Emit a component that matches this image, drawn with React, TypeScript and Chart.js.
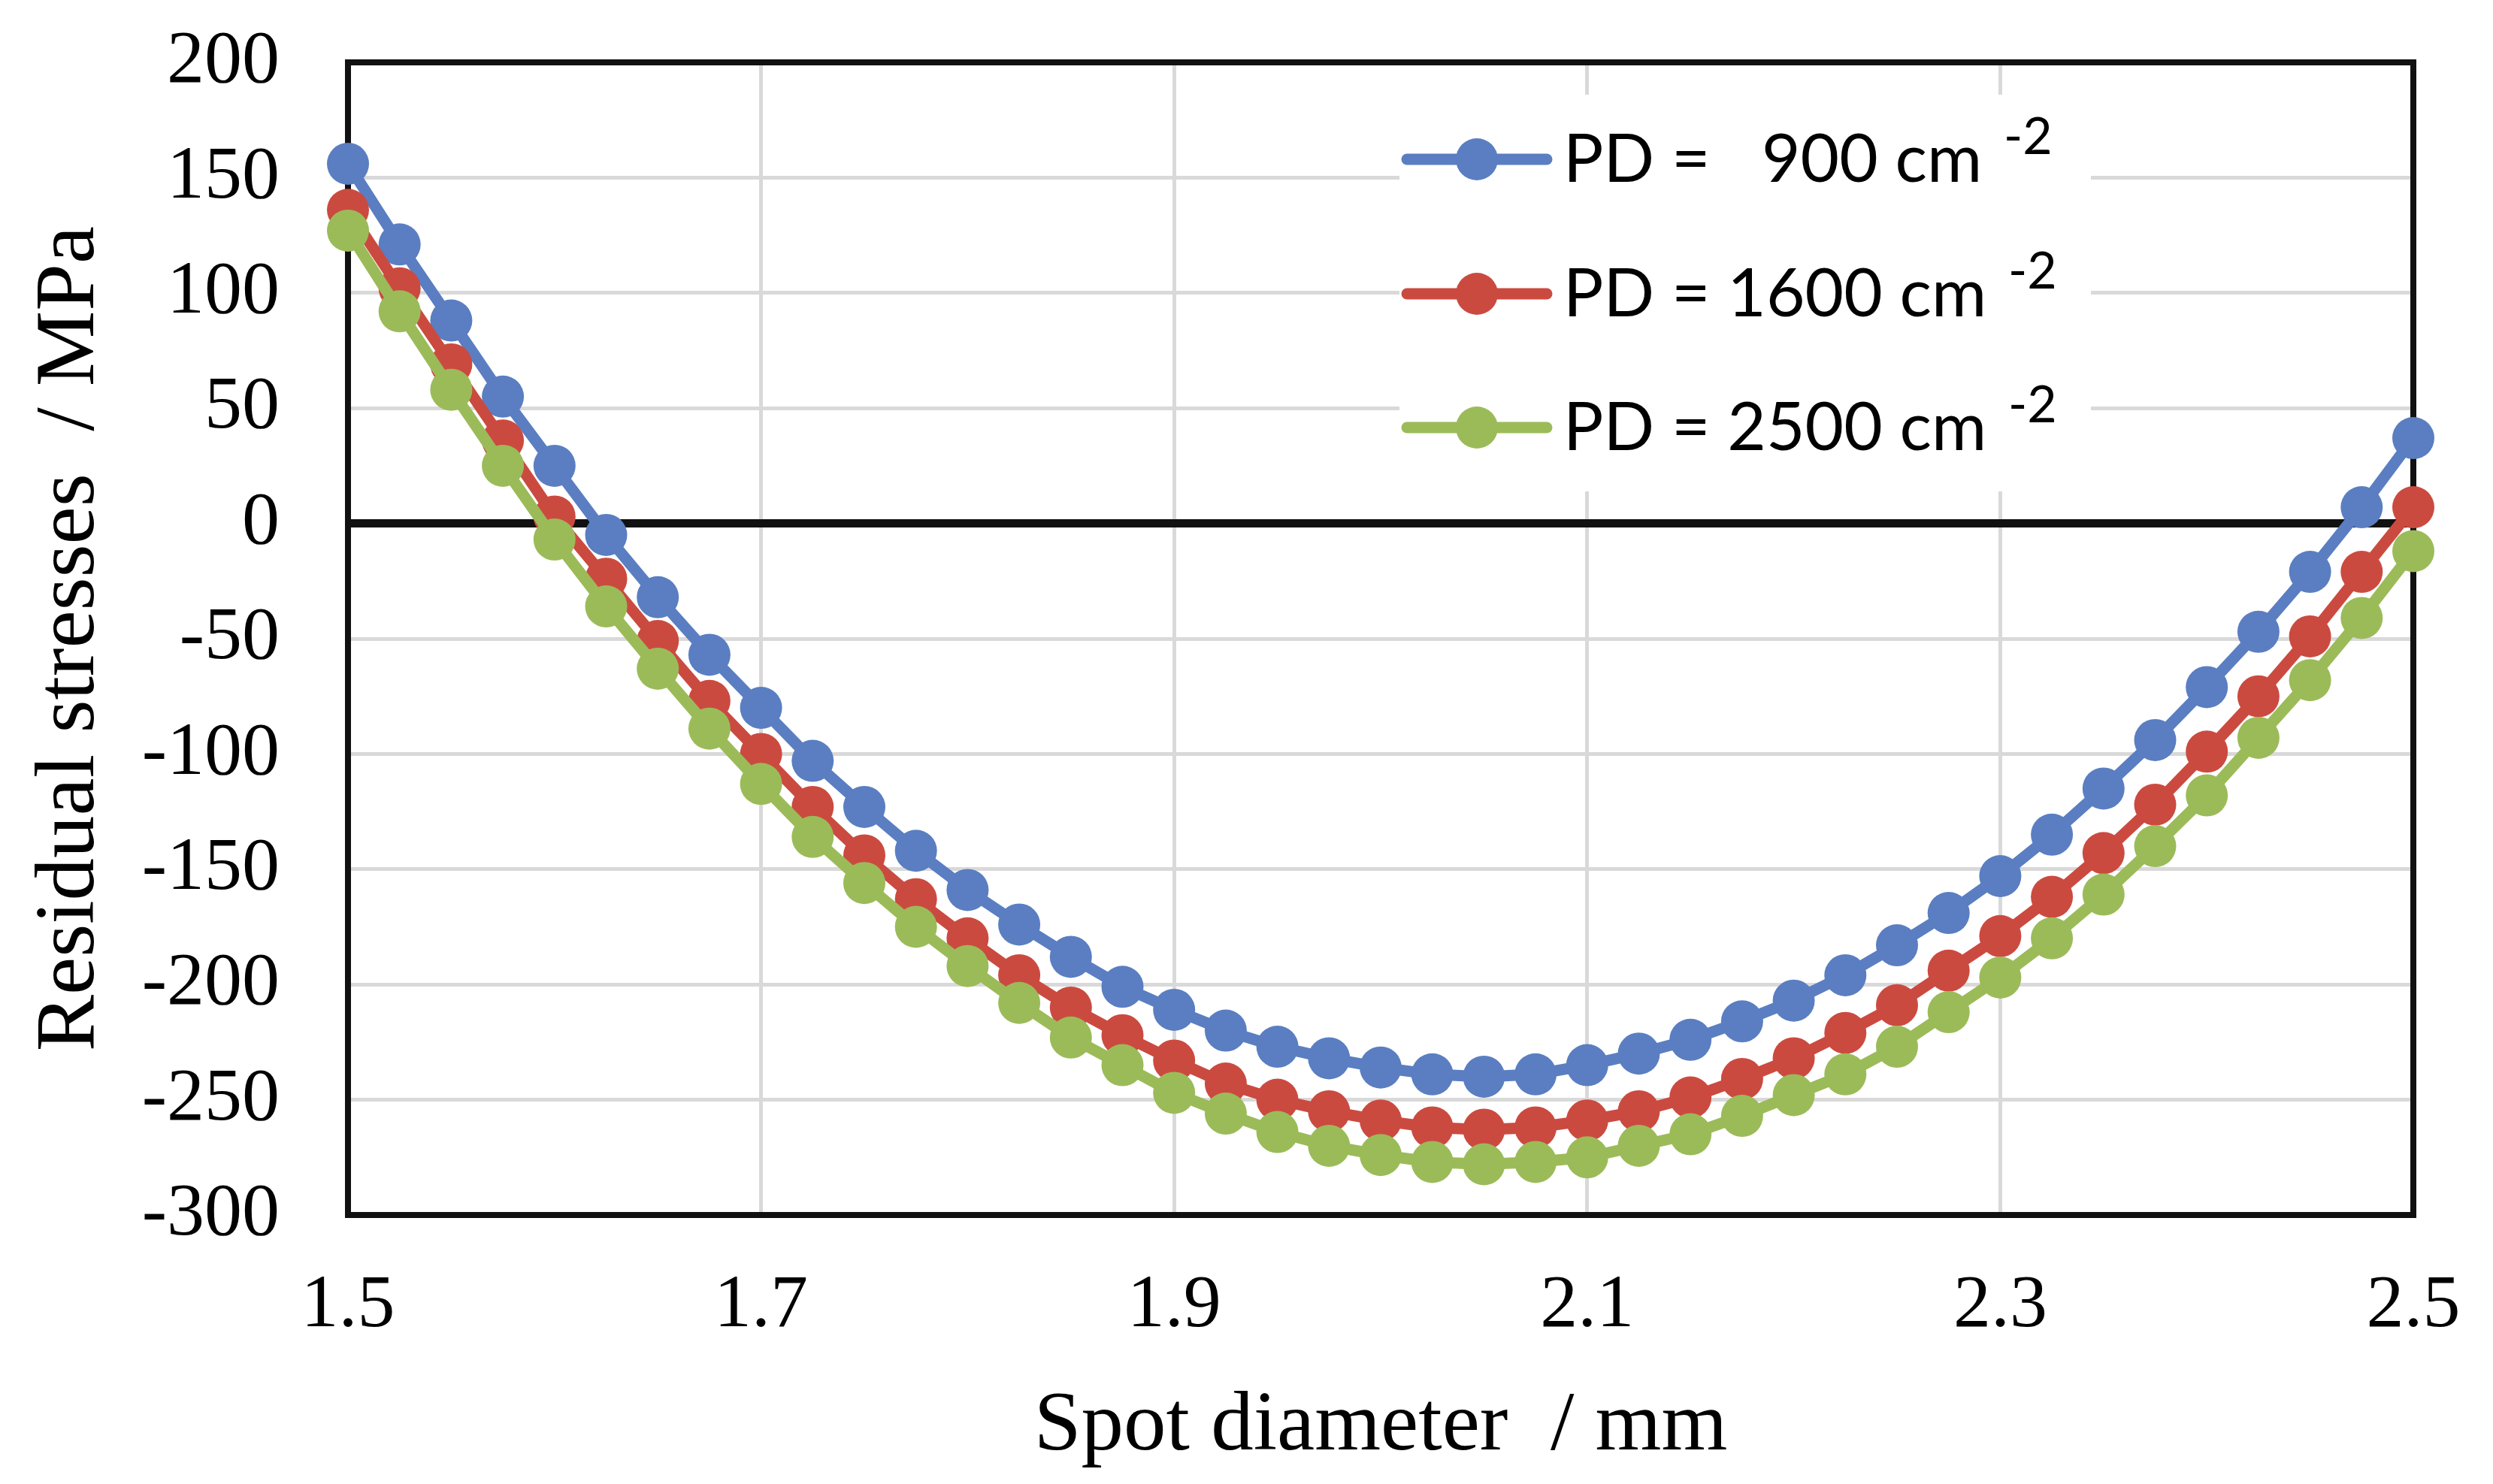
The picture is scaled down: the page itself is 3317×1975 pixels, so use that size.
import { useEffect, useRef } from 'react';
import { Chart, registerables } from 'chart.js';

Chart.register(...registerables);

// spot diameter / mm
const spotDiameter = [
  1.5, 1.525, 1.55, 1.575, 1.6, 1.625, 1.65, 1.675, 1.7, 1.725,
  1.75, 1.775, 1.8, 1.825, 1.85, 1.875, 1.9, 1.925, 1.95, 1.975,
  2.0, 2.025, 2.05, 2.075, 2.1, 2.125, 2.15, 2.175, 2.2, 2.225,
  2.25, 2.275, 2.3, 2.325, 2.35, 2.375, 2.4, 2.425, 2.45, 2.475, 2.5,
];

// residual stresses / MPa
const pd900 = [
  156, 121, 88, 55, 25, -5, -32, -57, -80, -103,
  -123, -142, -159, -174, -188, -201, -211, -220, -227, -232,
  -236, -239, -240, -239, -235, -230, -224, -216, -207, -196,
  -183, -169, -153, -135, -115, -94, -71, -47, -21, 7, 37,
];
const pd1600 = [
  136, 102, 69, 36, 3, -24, -51, -77, -100, -123,
  -144, -163, -180, -196, -210, -222, -233, -243, -250, -255,
  -259, -262, -263, -262, -259, -255, -249, -241, -232, -221,
  -209, -194, -179, -162, -143, -122, -99, -75, -49, -21, 7,
];
const pd2500 = [
  127, 92, 58, 25, -7, -36, -63, -89, -113, -136,
  -156, -175, -192, -208, -223, -235, -247, -256, -264, -270,
  -274, -277, -278, -277, -275, -270, -265, -257, -248, -239,
  -227, -212, -197, -180, -161, -140, -118, -93, -68, -41, -12,
];

const xTicks = [1.5, 1.7, 1.9, 2.1, 2.3, 2.5];

const seriesLabels = ['PD =   900 cm', 'PD = 1600 cm', 'PD = 2500 cm'];
const superscript = '-2';
const seriesColors = ['#5a7ec1', '#cb4a40', '#9bbb59'];

const legendPlugin = {
  id: 'pdLegend',
  beforeDatasetsDraw(chart: Chart) {
    const { ctx } = chart;
    ctx.save();
    // white legend box hides the grid behind it
    ctx.fillStyle = '#ffffff';
    ctx.fillRect(1862, 126, 920, 528);

    const rows = [212, 391, 569];
    seriesLabels.forEach((label, i) => {
      const y = rows[i];
      ctx.strokeStyle = seriesColors[i];
      ctx.lineWidth = 15;
      ctx.lineCap = 'round';
      ctx.beginPath();
      ctx.moveTo(1872, y);
      ctx.lineTo(2058, y);
      ctx.stroke();
      ctx.fillStyle = seriesColors[i];
      ctx.beginPath();
      ctx.arc(1965, y, 28, 0, Math.PI * 2);
      ctx.fill();

      ctx.fillStyle = '#000000';
      ctx.textBaseline = 'alphabetic';
      ctx.textAlign = 'left';
      ctx.font = '89px Lato';
      const text = label + ' ';
      ctx.fillText(text, 2080, y + 30);
      const w = ctx.measureText(text).width;
      ctx.font = '68px Lato';
      ctx.fillText(superscript, 2080 + w + 6, y - 7);
    });
    ctx.restore();
  },
};

const framePlugin = {
  id: 'plotFrame',
  beforeDatasetsDraw(chart: Chart) {
    const { ctx, chartArea } = chart;
    ctx.save();
    ctx.strokeStyle = '#111111';
    ctx.lineWidth = 8;
    ctx.strokeRect(chartArea.left, chartArea.top, chartArea.right - chartArea.left, chartArea.bottom - chartArea.top);
    ctx.restore();
  },
};

const App = () => {
  const canvasRef = useRef<HTMLCanvasElement | null>(null);

  useEffect(() => {
    document.body.style.margin = '0';
    if (!canvasRef.current) return;

    const makeSet = (label: string, data: number[], i: number, order: number) => ({
      label,
      data: data.map((v, k) => ({ x: spotDiameter[k], y: v })),
      borderColor: seriesColors[i],
      backgroundColor: seriesColors[i],
      pointBackgroundColor: seriesColors[i],
      pointBorderWidth: 0,
      pointRadius: 28,
      borderWidth: 15,
      tension: 0,
      clip: false as const,
      order,
    });

    const chart = new Chart(canvasRef.current, {
      type: 'line',
      data: {
        datasets: [
          makeSet(seriesLabels[0], pd900, 0, 2),
          makeSet(seriesLabels[1], pd1600, 1, 1),
          makeSet(seriesLabels[2], pd2500, 2, 0),
        ],
      },
      options: {
        animation: false,
        responsive: true,
        maintainAspectRatio: false,
        layout: { padding: { left: 0, top: 83, right: 106, bottom: 0 } },
        plugins: {
          legend: { display: false },
          tooltip: { enabled: false },
        },
        scales: {
          x: {
            type: 'linear',
            min: 1.5,
            max: 2.5,
            afterBuildTicks: (scale: any) => {
              scale.ticks = xTicks.map((v) => ({ value: v }));
            },
            afterFit: (scale: any) => {
              scale.height = 358;
              scale.paddingLeft = 0;
              scale.paddingRight = 0;
            },
            grid: {
              color: '#d9d9d9',
              lineWidth: 5,
              drawTicks: false,
            },
            border: { display: false },
            ticks: {
              padding: 62,
              color: '#000000',
              font: { family: 'Liberation Serif', size: 100 },
              callback: (v: any) => Number(v).toFixed(1),
              maxRotation: 0,
            },
            title: {
              display: true,
              text: 'Spot diameter  / mm',
              color: '#000000',
              font: { family: 'Liberation Serif', size: 113 },
              padding: { top: 0, bottom: 8 },
            },
          },
          y: {
            min: -300,
            max: 200,
            afterFit: (scale: any) => {
              scale.width = 463;
              scale.paddingTop = 0;
              scale.paddingBottom = 0;
            },
            grid: {
              color: (c: any) => (c.tick && c.tick.value === 0 ? '#111111' : '#d9d9d9'),
              lineWidth: (c: any) => (c.tick && c.tick.value === 0 ? 11 : 5),
              drawTicks: false,
            },
            border: { display: false },
            ticks: {
              stepSize: 50,
              padding: 91,
              color: '#000000',
              font: { family: 'Liberation Serif', size: 100 },
              callback: (v: any) => String(v),
            },
            title: {
              display: true,
              text: 'Residual stresses  / MPa',
              color: '#000000',
              font: { family: 'Liberation Serif', size: 113 },
              padding: { top: 27, bottom: 0 },
            },
          },
        },
      },
      plugins: [framePlugin, legendPlugin],
    });

    return () => {
      chart.destroy();
    };
  }, []);

  return (
    <div style={{ width: '3317px', height: '1975px', background: '#ffffff' }}>
      <canvas ref={canvasRef} />
    </div>
  );
};

export default App;
